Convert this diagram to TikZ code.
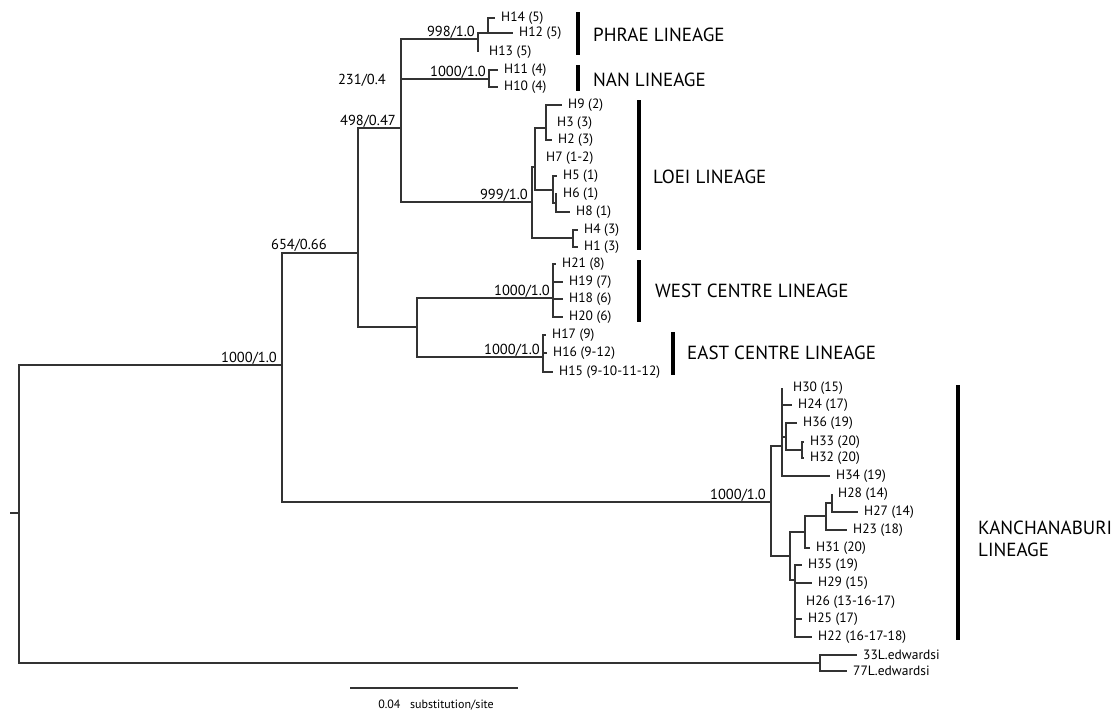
\documentclass[tikz,border=0pt]{standalone}
\usepackage{fontspec}
\setmainfont{PT Sans}
\usetikzlibrary{positioning}
\tikzset{
    branch/.style = {draw=black!80, line width=1.1pt},
    leaf/.style = {anchor=west, inner xsep=6pt, inner ysep=0pt, font=\fontsize{13.5}{16}\selectfont},
    leafz/.style = {leaf, inner xsep=11pt},
    supp/.style = {anchor=base east, inner sep=0pt, text depth=0pt, font=\fontsize{14.5}{16}\selectfont},
    lin/.style = {anchor=west, inner sep=0pt, align=left, font=\fontsize{19}{22}\selectfont},
    lbar/.style = {line width=3.5pt, black},
}
\begin{document}
\begin{tikzpicture}[x=1pt, y=-1pt]
\useasboundingbox (0,0) rectangle (1115,713);
% internal nodes
\coordinate (stem) at (10,513);
\coordinate (root) at (19,513);
\coordinate (ing) at (282,365);
\coordinate (n654) at (358,253);
\coordinate (n498) at (401,128);
\coordinate (phr) at (478,39);
\coordinate (phr2) at (488,33);
\coordinate (nan) at (489,79);
\coordinate (loei) at (532,202);
\coordinate (loeib) at (535,167);
\coordinate (loeic) at (546,128);
\coordinate (loeid) at (553,190);
\coordinate (loeie) at (556,203);
\coordinate (loeif) at (573,238);
\coordinate (nwe) at (417,327);
\coordinate (west) at (553,298);
\coordinate (east) at (543,357);
\coordinate (kan) at (771,502);
\coordinate (kanf) at (782,446);
\coordinate (kang) at (786,437);
\coordinate (kanh) at (802,450);
\coordinate (kanl) at (790,556);
\coordinate (kanm) at (805,532);
\coordinate (kann) at (826,516);
\coordinate (kano) at (832,503);
\coordinate (kanp) at (795,580);
\coordinate (og) at (820,663);
% haplotypes
\node[leaf] (h14) at (495,18) {H14 (5)};
\node[leaf] (h12) at (513,33) {H12 (5)};
\node[leafz] (h13) at (478,52) {H13 (5)};
\node[leaf] (h11) at (498,70) {H11 (4)};
\node[leaf] (h10) at (498,87) {H10 (4)};
\node[leaf] (h9) at (562,105) {H9 (2)};
\node[leafz] (h3) at (546,123) {H3 (3)};
\node[leaf] (h2) at (552,140) {H2 (3)};
\node[leafz] (h7) at (535,158) {H7 (1-2)};
\node[leaf] (h5) at (557,176) {H5 (1)};
\node[leaf] (h6) at (557,194) {H6 (1)};
\node[leaf] (h8) at (570,212) {H8 (1)};
\node[leaf] (h4) at (578,230) {H4 (3)};
\node[leaf] (h1) at (578,247) {H1 (3)};
\node[leaf] (h21) at (556,264) {H21 (8)};
\node[leaf] (h19) at (563,282) {H19 (7)};
\node[leaf] (h18) at (563,299) {H18 (6)};
\node[leaf] (h20) at (563,317) {H20 (6)};
\node[leaf] (h17) at (546,335) {H17 (9)};
\node[leaf] (h16) at (547,353) {H16 (9-12)};
\node[leaf] (h15) at (553,372) {H15 (9-10-11-12)};
\node[leafz] (h30) at (782,388) {H30 (15)};
\node[leaf] (h24) at (792,405) {H24 (17)};
\node[leaf] (h36) at (797,423) {H36 (19)};
\node[leaf] (h33) at (804,442) {H33 (20)};
\node[leaf] (h32) at (804,458) {H32 (20)};
\node[leaf] (h34) at (830,476) {H34 (19)};
\node[leaf] (h28) at (832,494) {H28 (14)};
\node[leaf] (h27) at (858,512) {H27 (14)};
\node[leaf] (h23) at (847,530) {H23 (18)};
\node[leaf] (h31) at (810,548) {H31 (20)};
\node[leaf] (h35) at (802,565) {H35 (19)};
\node[leaf] (h29) at (812,583) {H29 (15)};
\node[leafz] (h26) at (795,602) {H26 (13-16-17)};
\node[leaf] (h25) at (802,619) {H25 (17)};
\node[leaf] (h22) at (812,637) {H22 (16-17-18)};
\node[leaf] (ed33) at (857,655) {33L.edwardsi};
\node[leaf] (ed77) at (847,671) {77L.edwardsi};
%
\draw[branch] (stem) -- (root);
\draw[branch] (root) |- (ing);
\draw[branch] (root) |- (og);
\draw[branch] (ing) |- (n654);
\draw[branch] (ing) |- (kan);
\draw[branch] (n654) |- (n498);
\draw[branch] (n654) |- (nwe);
%
\draw[branch] (n498) |- (phr);
\draw[branch] (n498) |- (nan);
\draw[branch] (n498) |- (loei);
\draw[branch] (phr) |- (phr2);
\draw[branch] (phr) |- (h13);
\draw[branch] (phr2) |- (h14);
\draw[branch] (phr2) |- (h12);
\draw[branch] (nan) |- (h11);
\draw[branch] (nan) |- (h10);
%
\draw[branch] (loei) |- (loeib);
\draw[branch] (loei) |- (loeif);
\draw[branch] (loeib) |- (loeic);
\draw[branch] (loeib) |- (h7);
\draw[branch] (loeib) |- (loeid);
\draw[branch] (loeic) |- (h9);
\draw[branch] (loeic) |- (h3);
\draw[branch] (loeic) |- (h2);
\draw[branch] (loeid) |- (h5);
\draw[branch] (loeid) |- (loeie);
\draw[branch] (loeie) |- (h6);
\draw[branch] (loeie) |- (h8);
\draw[branch] (loeif) |- (h4);
\draw[branch] (loeif) |- (h1);
%
\draw[branch] (nwe) |- (west);
\draw[branch] (nwe) |- (east);
\draw[branch] (west) |- (h21);
\draw[branch] (west) |- (h19);
\draw[branch] (west) |- (h18);
\draw[branch] (west) |- (h20);
\draw[branch] (east) |- (h17);
\draw[branch] (east) |- (h16);
\draw[branch] (east) |- (h15);
%
\draw[branch] (kan) |- (kanf);
\draw[branch] (kan) |- (kanl);
\draw[branch] (kanf) |- (h30);
\draw[branch] (kanf) |- (h24);
\draw[branch] (kanf) |- (kang);
\draw[branch] (kanf) |- (h34);
\draw[branch] (kang) |- (h36);
\draw[branch] (kang) |- (kanh);
\draw[branch] (kanh) |- (h33);
\draw[branch] (kanh) |- (h32);
\draw[branch] (kanl) |- (kanm);
\draw[branch] (kanl) |- (kanp);
\draw[branch] (kanm) |- (kann);
\draw[branch] (kanm) |- (h31);
\draw[branch] (kann) |- (kano);
\draw[branch] (kann) |- (h23);
\draw[branch] (kano) |- (h28);
\draw[branch] (kano) |- (h27);
\draw[branch] (kanp) |- (h35);
\draw[branch] (kanp) |- (h29);
\draw[branch] (kanp) |- (h26);
\draw[branch] (kanp) |- (h25);
\draw[branch] (kanp) |- (h22);
%
\draw[branch] (og) |- (ed33);
\draw[branch] (og) |- (ed77);
% support values
\node[supp] (s_ing) at (277,362) {1000/1.0};
\node[supp] (s_654) at (327,249) {654/0.66};
\node[supp] (s_498) at (396,125) {498/0.47};
\node[supp] (s_231) at (386,84) {231/0.4};
\node[supp] (s_phr) at (475,36) {998/1.0};
\node[supp] (s_nan) at (486,76) {1000/1.0};
\node[supp] (s_loei) at (528,199) {999/1.0};
\node[supp] (s_west) at (550,295) {1000/1.0};
\node[supp] (s_east) at (540,354) {1000/1.0};
\node[supp] (s_kan) at (766,499) {1000/1.0};
% lineages
\node[lin] (l_phr) at (593,35) {PHRAE LINEAGE};
\node[lin] (l_nan) at (593,80) {NAN LINEAGE};
\node[lin] (l_loei) at (653,177) {LOEI LINEAGE};
\node[lin] (l_west) at (655,291) {WEST CENTRE LINEAGE};
\node[lin] (l_east) at (687,353) {EAST CENTRE LINEAGE};
\node[lin] (l_kan) at (978,539) {KANCHANABURI\\LINEAGE};
\draw[lbar] (578,12) -- (578,55);
\draw[lbar] (578,65) -- (578,91);
\draw[lbar] (639,100) -- (639,250);
\draw[lbar] (639,260) -- (639,322);
\draw[lbar] (673,332) -- (673,375);
\draw[lbar] (958,385) -- (958,640);
% scale
\coordinate (sc1) at (350,688);
\coordinate (sc2) at (518,688);
\draw[branch] (sc1) -- (sc2);
\node[font=\fontsize{12}{14}\selectfont] (sclab) at (436,705) {0.04\hspace{0.8em}substitution/site};
\end{tikzpicture}
\end{document}
